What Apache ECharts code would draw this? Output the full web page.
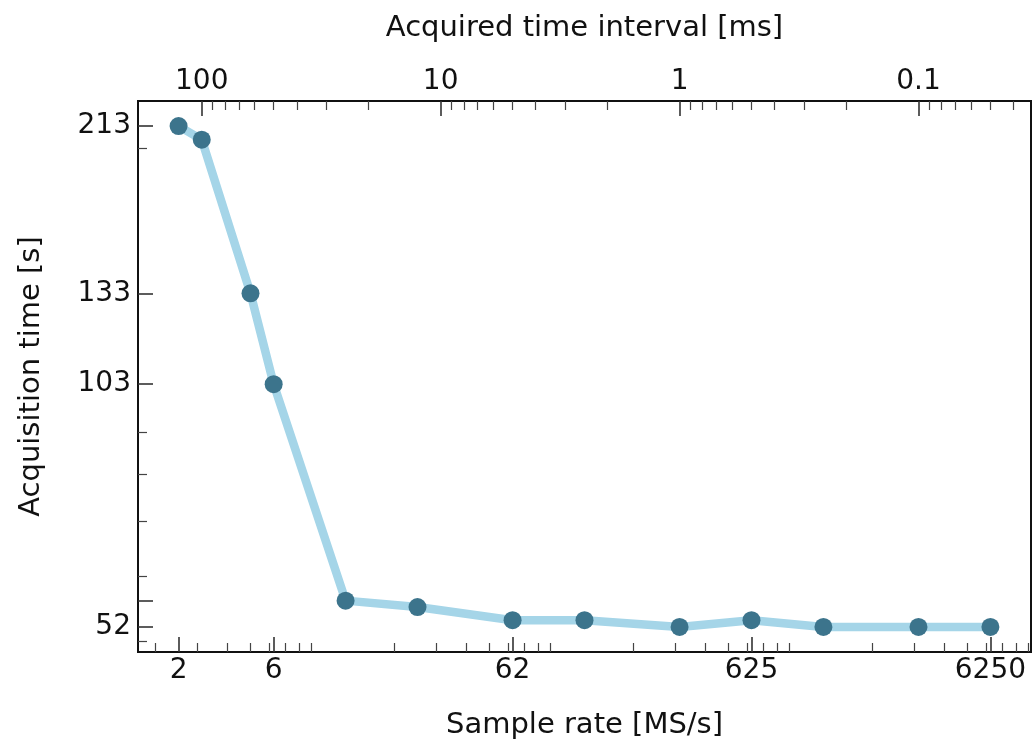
<!DOCTYPE html>
<html>
<head>
<meta charset="utf-8">
<script src="https://cdn.jsdelivr.net/npm/echarts@6/dist/echarts.min.js"></script>
<style>
html,body{margin:0;padding:0;background:#fff;}
#chart{width:1035px;height:749px;}
</style>
</head>
<body>
<div id="chart"></div>
<script>
// ---- data ----
const sampleRate = [2.5, 3.125, 5, 6.25, 12.5, 25, 62.5, 125, 312.5, 625, 1250, 3125, 6250];
const acqTime = [213, 205, 133, 103, 56, 55, 53, 53, 52, 53, 52, 52, 52];

const bottomTickValues = [2.5, 6.25, 62.5, 625, 6250];
const bottomTickLabels = ['2', '6', '62', '625', '6250'];
const topTickValues = [0.1, 1, 10, 100];
const topTickLabels = ['0.1', '1', '10', '100'];
const leftTickValues = [213, 133, 103, 56, 52];
const leftLabelValues = [213, 133, 103, 52];
const leftTickLabels = ['213', '133', '103', '52'];

// interval [ms] = intervalPerRate / sample rate [MS/s]
const intervalPerRate = 312.5;

// ---- helpers ----
function minorLogTicks(lo, hi) {
  const out = [];
  for (let e = Math.floor(Math.log10(lo)) - 1; e <= Math.ceil(Math.log10(hi)) + 1; e++) {
    for (let m = 2; m <= 9; m++) {
      const v = m * Math.pow(10, e);
      if (v >= lo && v <= hi) out.push(+v.toPrecision(6));
    }
  }
  return out;
}
function labelFor(values, labels) {
  return function (v) {
    let best = 0, bd = Infinity;
    for (let i = 0; i < values.length; i++) {
      const d = Math.abs(Math.log(v) - Math.log(values[i]));
      if (d < bd) { bd = d; best = i; }
    }
    return labels[best];
  };
}
function logPad(lo, hi, frac) {
  const r = Math.log10(hi) - Math.log10(lo);
  const p = Math.pow(10, r * frac);
  return [lo / p, hi * p];
}

const xr = logPad(Math.min(...sampleRate), Math.max(...sampleRate), 0.05);
const yr = logPad(Math.min(...acqTime), Math.max(...acqTime), 0.05);
const tr = [intervalPerRate / xr[1], intervalPerRate / xr[0]];

const FONT = 'DejaVu Sans';
const labelStyle = { fontFamily: FONT, fontSize: 28, color: '#111' };
const titleStyle = { fontFamily: FONT, fontSize: 29, color: '#111' };
const majorTick = { show: true, inside: true, length: 15, lineStyle: { color: '#333', width: 1.6 } };
const minorTick = { show: true, inside: true, length: 9, lineStyle: { color: '#444', width: 1.2 } };

const chart = echarts.init(document.getElementById('chart'), null, { renderer: 'canvas' });
chart.setOption({
  animation: false,
  backgroundColor: '#fff',
  grid: {
    left: 138, right: 4, top: 101, bottom: 97,
    show: true, borderColor: '#111', borderWidth: 2, backgroundColor: 'transparent'
  },
  xAxis: [
    {
      type: 'log', logBase: 10, position: 'bottom', min: xr[0], max: xr[1],
      name: 'Sample rate [MS/s]', nameLocation: 'middle', nameGap: 59,
      nameTextStyle: titleStyle,
      axisLine: { show: false },
      axisTick: Object.assign({ customValues: bottomTickValues }, majorTick),
      axisLabel: Object.assign({ customValues: bottomTickValues, margin: 5,
        formatter: labelFor(bottomTickValues, bottomTickLabels) }, labelStyle),
      splitLine: { show: false }, minorTick: { show: false }
    },
    {
      type: 'log', logBase: 10, position: 'bottom', min: xr[0], max: xr[1],
      axisLine: { show: false },
      axisTick: Object.assign({ customValues: minorLogTicks(xr[0], xr[1]) }, minorTick),
      axisLabel: { show: false },
      splitLine: { show: false }
    },
    {
      type: 'log', logBase: 10, position: 'top', inverse: true, min: tr[0], max: tr[1],
      name: 'Acquired time interval [ms]', nameLocation: 'middle', nameGap: 58,
      nameTextStyle: titleStyle,
      axisLine: { show: false },
      axisTick: Object.assign({ customValues: topTickValues }, majorTick),
      axisLabel: Object.assign({ customValues: topTickValues, margin: 5,
        formatter: labelFor(topTickValues, topTickLabels) }, labelStyle),
      splitLine: { show: false }
    },
    {
      type: 'log', logBase: 10, position: 'top', inverse: true, min: tr[0], max: tr[1],
      axisLine: { show: false },
      axisTick: Object.assign({ customValues: minorLogTicks(tr[0], tr[1]) }, minorTick),
      axisLabel: { show: false },
      splitLine: { show: false }
    }
  ],
  yAxis: [
    {
      type: 'log', logBase: 10, position: 'left', min: yr[0], max: yr[1],
      name: 'Acquisition time [s]', nameLocation: 'middle', nameGap: 92,
      nameTextStyle: titleStyle,
      axisLine: { show: false },
      axisTick: Object.assign({ customValues: leftTickValues }, majorTick),
      axisLabel: Object.assign({ customValues: leftLabelValues, margin: 7,
        formatter: labelFor(leftLabelValues, leftTickLabels) }, labelStyle),
      splitLine: { show: false }
    },
    {
      type: 'log', logBase: 10, position: 'left', min: yr[0], max: yr[1],
      axisLine: { show: false },
      axisTick: Object.assign({ customValues: minorLogTicks(yr[0], yr[1]) }, minorTick),
      axisLabel: { show: false },
      splitLine: { show: false }
    }
  ],
  series: [
    {
      type: 'line', xAxisIndex: 0, yAxisIndex: 0,
      data: sampleRate.map((r, i) => [r, acqTime[i]]),
      lineStyle: { color: '#a5d5e8', width: 8.5 },
      symbol: 'circle', symbolSize: 18,
      itemStyle: { color: '#3c748c', borderWidth: 0 },
      z: 3
    }
  ]
});
</script>
</body>
</html>
